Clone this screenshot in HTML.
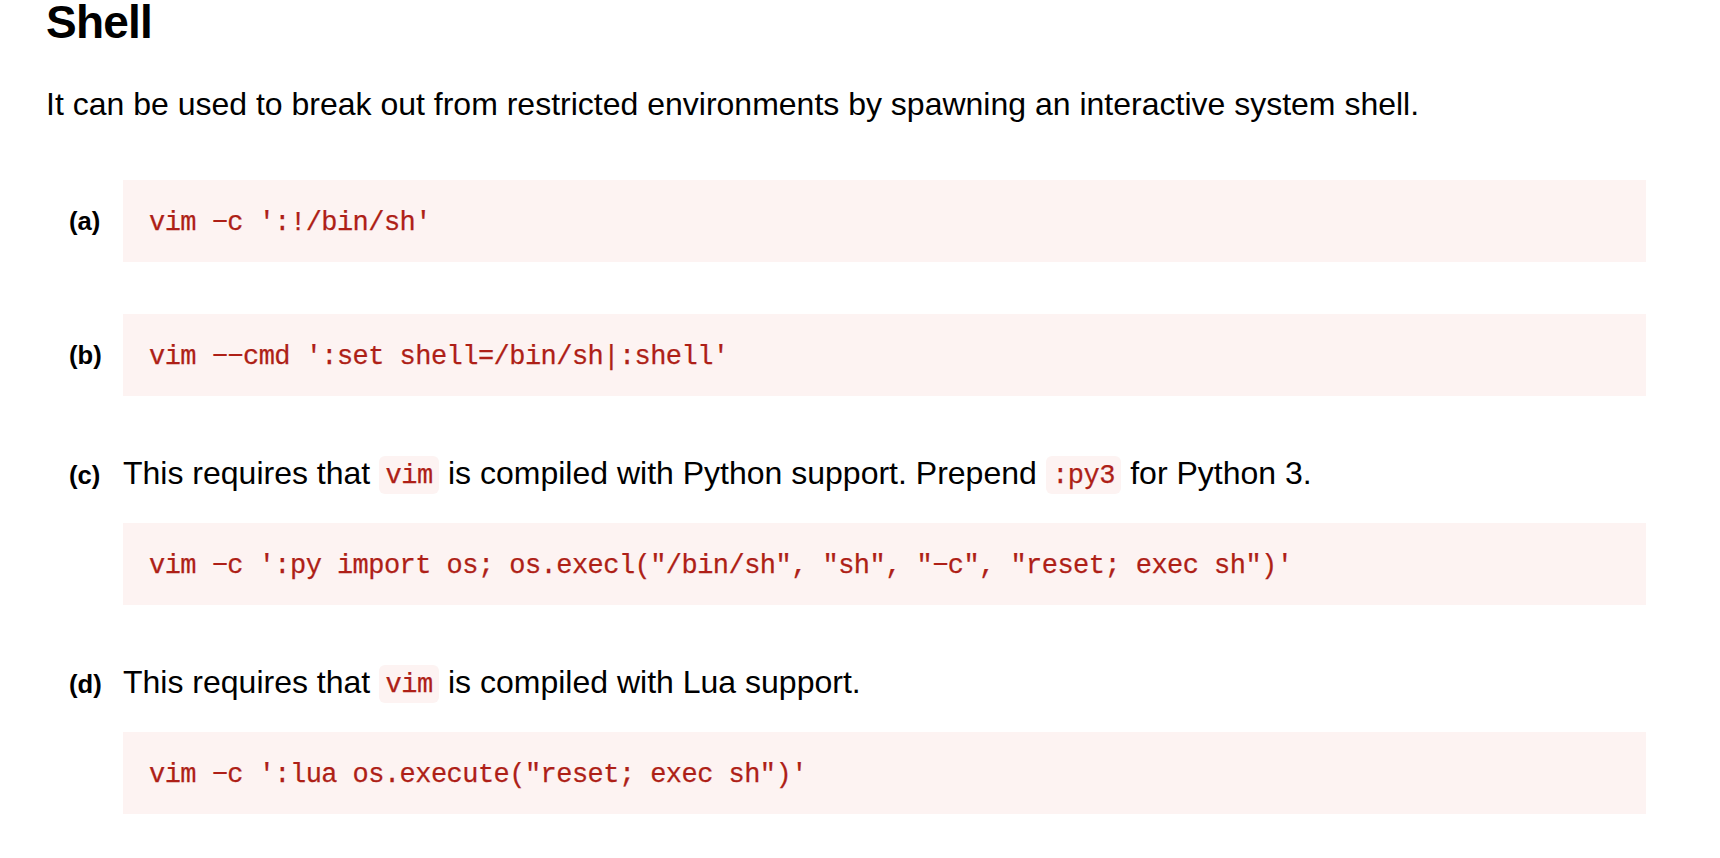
<!DOCTYPE html>
<html>
<head>
<meta charset="utf-8">
<style>
html, body { margin: 0; padding: 0; background: #fff; }
body { width: 1720px; height: 858px; overflow: hidden; position: relative;
  font-family: "Liberation Sans", sans-serif; color: #000; }
.abs { position: absolute; white-space: pre; line-height: 1; }
h2 { margin: 0; font-size: 46px; font-weight: bold; letter-spacing: -0.8px; }
.p { font-size: 32px; }
.lbl { font-size: 25.6px; font-weight: bold; }
.blk { position: absolute; left: 123px; width: 1523px; height: 82px; background: #fdf3f2; }
.code { font-family: "Liberation Mono", monospace; font-size: 27px; letter-spacing: -0.54px; color: #ae1f17; -webkit-text-stroke: 0.25px #ae1f17; }
.ic { font-family: "Liberation Mono", monospace; font-size: 27px; letter-spacing: -0.54px; color: #ae1f17; -webkit-text-stroke: 0.25px #ae1f17;
  background: #fdf3f2; border-radius: 6px; padding: 5.2px 6.5px 2.7px 6.5px; }
</style>
</head>
<body>
<h2 class="abs" id="h2" style="left:46px; top:-1.2px;">Shell</h2>
<div class="abs p" id="p1" style="left:46px; top:87.6px;">It can be used to break out from restricted environments by spawning an interactive system shell.</div>

<div class="blk" style="top:180px;"></div>
<div class="abs lbl" id="la" style="left:69px; top:209px;">(a)</div>
<div class="abs code" id="ca" style="left:149px; top:210px;">vim &minus;c ':!/bin/sh'</div>

<div class="blk" style="top:314px;"></div>
<div class="abs lbl" id="lb" style="left:69px; top:343px;">(b)</div>
<div class="abs code" id="cb" style="left:149px; top:344px;">vim &minus;&minus;cmd ':set shell=/bin/sh|:shell'</div>

<div class="abs lbl" id="lc" style="left:69px; top:463px;">(c)</div>
<div class="abs p" id="tc" style="left:123px; top:456.6px;">This requires that <span class="ic">vim</span> is compiled with Python support. Prepend <span class="ic">:py3</span> for Python 3.</div>
<div class="blk" style="top:523px;"></div>
<div class="abs code" id="cc" style="left:149px; top:553px;">vim &minus;c ':py import os; os.execl("/bin/sh", "sh", "&minus;c", "reset; exec sh")'</div>

<div class="abs lbl" id="ld" style="left:69px; top:672px;">(d)</div>
<div class="abs p" id="td" style="left:123px; top:665.6px;">This requires that <span class="ic">vim</span> is compiled with Lua support.</div>
<div class="blk" style="top:732px;"></div>
<div class="abs code" id="cd" style="left:149px; top:762px;">vim &minus;c ':lua os.execute("reset; exec sh")'</div>
</body>
</html>
